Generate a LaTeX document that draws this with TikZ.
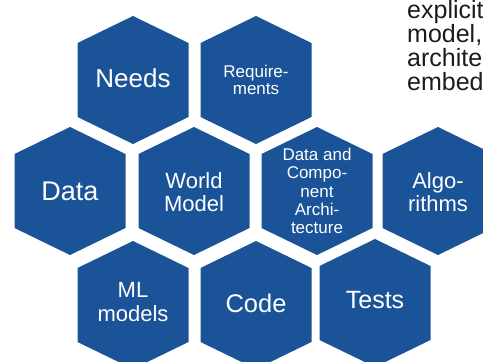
\documentclass[tikz,border=0pt]{standalone}
\usepackage{fontspec}
\setmainfont{Liberation Sans}
\definecolor{hexblue}{RGB}{26,83,151}
\definecolor{bodytext}{RGB}{28,28,28}
\begin{document}
\begin{tikzpicture}[x=1pt,y=-1pt,
  hexcell/.pic={\fill[hexblue] (0,-64) -- (55.5,-37) -- (55.5,37) -- (0,64)
      -- (-55.5,37) -- (-55.5,-37) -- cycle;},
  celltext/.style={text=white, align=center, inner sep=0pt},
  bigtext/.style={celltext, font=\fontsize{26}{28}\selectfont},
  midtext/.style={celltext, font=\fontsize{22}{23.5}\selectfont},
  smalltext/.style={celltext, font=\fontsize{17}{17.5}\selectfont},
  tinytext/.style={celltext, font=\fontsize{17}{18.3}\selectfont},
  sidetext/.style={text=bodytext, anchor=base west, inner sep=0pt,
      font=\fontsize{25}{24}\selectfont}]
\useasboundingbox (0,0) rectangle (483,362);

% honeycomb cells
\pic at (133,80) {hexcell};
\pic at (256,80) {hexcell};
\pic at (70,191) {hexcell};
\pic at (194,191) {hexcell};
\pic at (317,191) {hexcell};
\pic at (438,191) {hexcell};
\pic at (133,305) {hexcell};
\pic at (256,305) {hexcell};
\pic at (375,303) {hexcell};

% cell labels
\node[bigtext] (needs) at (133,78) {Needs};
\node[smalltext] (req) at (256,80) {Require-\\ments};
\node[celltext, font=\fontsize{27}{29}\selectfont] (data) at (70,191) {Data};
\node[midtext] (world) at (194,192) {World\\Model};
\node[tinytext] (arch) at (317,191) {Data and\\Compo-\\nent\\Archi-\\tecture};
\node[midtext] (algo) at (438,192) {Algo-\\rithms};
\node[midtext] (ml) at (133,302) {ML\\models};
\node[celltext, font=\fontsize{25.5}{27}\selectfont] (code) at (256,303.5) {Code};
\node[celltext, font=\fontsize{25}{27}\selectfont] (tests) at (375,300.5) {Tests};

% running text at the right edge
\node[sidetext] (l1) at (407,18.3) {explicit};
\node[sidetext] (l2) at (407,42.7) {model,};
\node[sidetext] (l3) at (407,66.7) {archite};
\node[sidetext] (l4) at (407,90.5) {embed};
\end{tikzpicture}
\end{document}
